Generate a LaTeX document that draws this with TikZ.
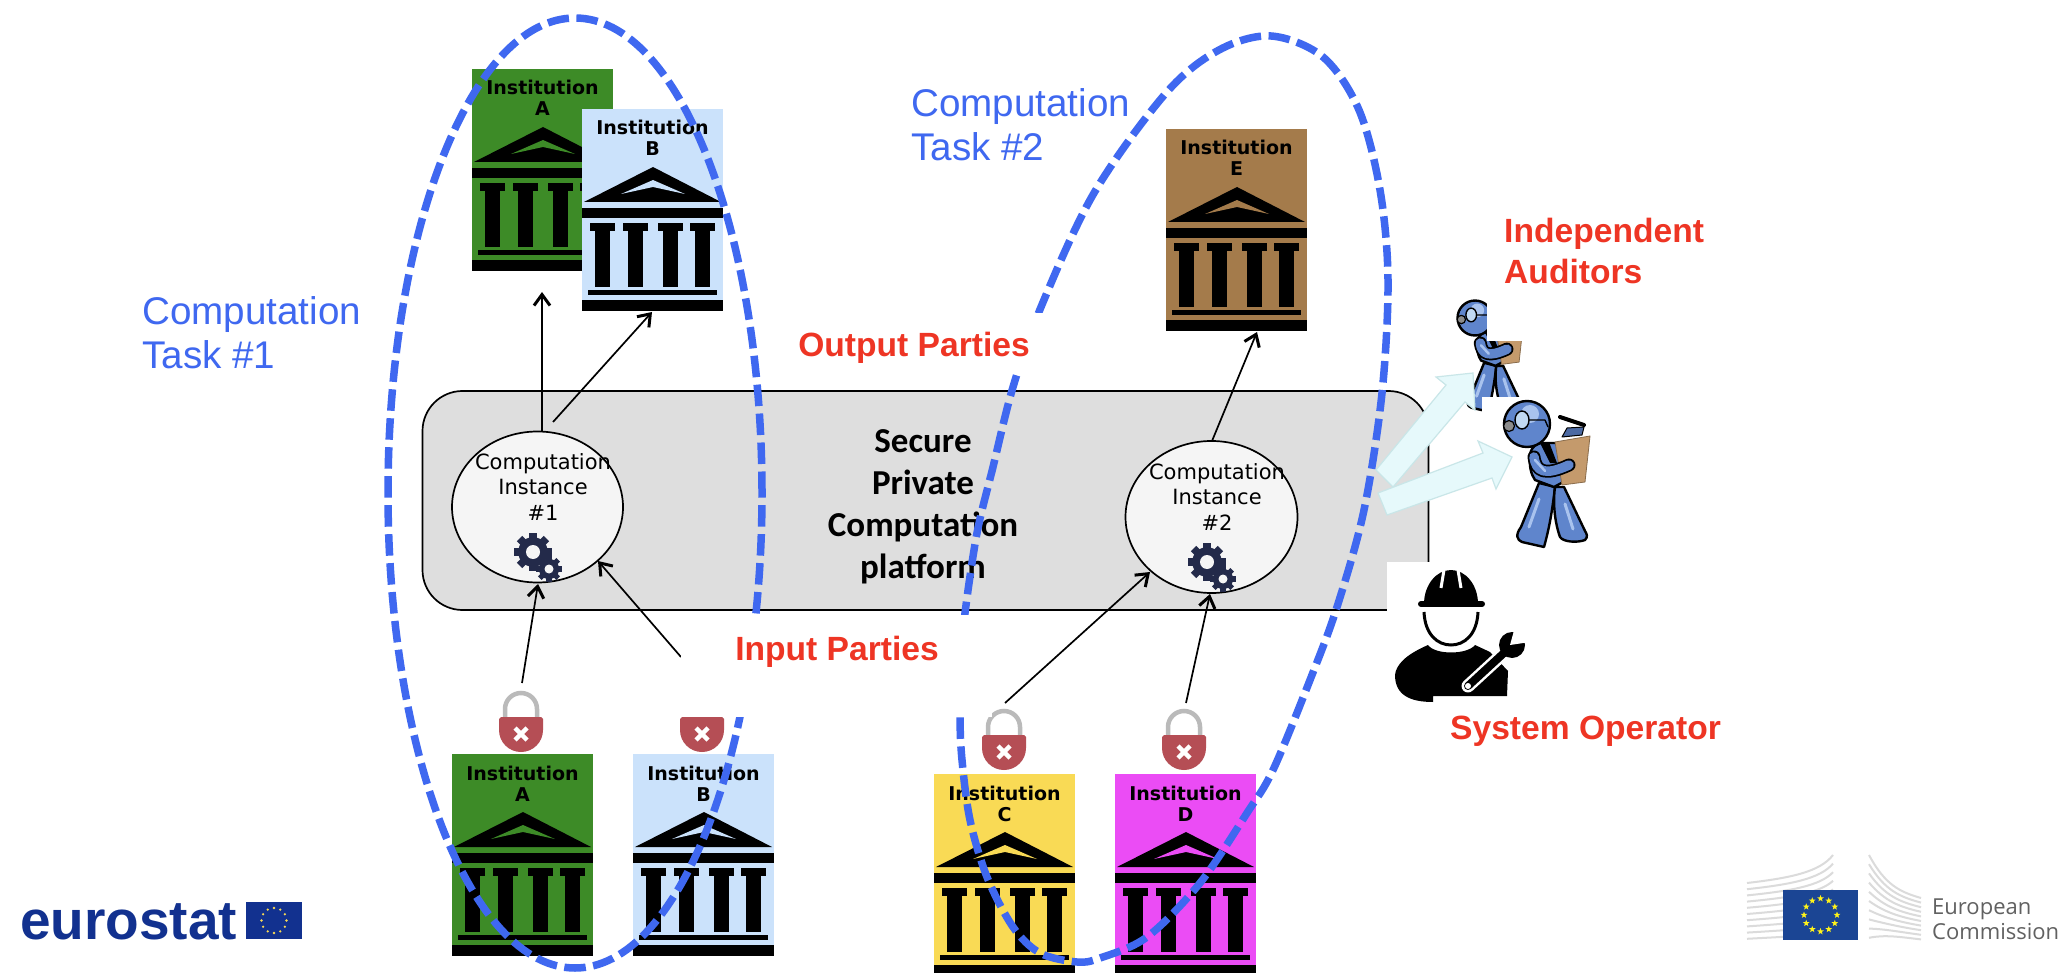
\documentclass[tikz,border=0pt]{standalone}
\usepackage{fontspec}
\usetikzlibrary{arrows.meta,shapes.geometric}
\setmainfont{DejaVu Sans}
\newfontfamily\dvfont{DejaVu Sans}
\newfontfamily\libfont{Liberation Sans}
\newfontfamily\osfont{Open Sans}
\newfontfamily\carfont{Carlito}
\definecolor{taskblue}{HTML}{3F68F0}
\definecolor{labred}{HTML}{EE3524}
\definecolor{platgrey}{HTML}{DEDEDE}
\definecolor{instgreen}{HTML}{3D8B27}
\definecolor{instblue}{HTML}{CBE2FB}
\definecolor{instyellow}{HTML}{F9DA55}
\definecolor{instmagenta}{HTML}{EB4CF5}
\definecolor{instbrown}{HTML}{A47B4B}
\definecolor{lockred}{HTML}{B54E55}
\definecolor{gearnavy}{HTML}{232A4A}
\definecolor{eublue}{HTML}{12318F}
\definecolor{ecblue}{HTML}{1B4594}
\definecolor{figblue}{HTML}{5F85CC}
\definecolor{figlight}{HTML}{A9C3EE}
\definecolor{clipboard}{HTML}{C49A6C}
\definecolor{cyanfill}{HTML}{E6F9FB}
\definecolor{cyanedge}{HTML}{C9E6E8}
\tikzset{
  instbox/.style={rectangle,minimum width=141pt,minimum height=202pt,inner sep=0pt},
  insttext/.style={inner sep=0pt,align=center,font=\dvfont\bfseries\fontsize{19}{21}\selectfont},
  platbox/.style={rectangle,rounded corners=40pt,draw=black,line width=1.7pt,fill=platgrey,
    minimum width=1006pt,minimum height=219pt,inner sep=0pt},
  instcircle/.style={ellipse,draw=black,line width=1.7pt,fill=white!96!black,
    minimum width=171pt,minimum height=151pt,inner sep=0pt},
  circtext/.style={inner sep=0pt,align=center,font=\dvfont\fontsize{21}{25.5}\selectfont},
  conn/.style={line width=1.7pt,-{Straight Barb[length=11pt,width=16pt,line width=3pt]}},
  taskring/.style={draw=taskblue,line width=7.5pt,dash pattern=on 21.5pt off 7.5pt},
  tasklabel/.style={inner sep=0pt,align=left,text=taskblue,font=\libfont\fontsize{38.6}{44}\selectfont},
  rolelabel/.style={inner sep=0pt,align=left,text=labred,font=\libfont\bfseries\fontsize{33.6}{41}\selectfont},
  masker/.style={rectangle,fill=white,inner sep=0pt},
  bigarrow/.style={fill=cyanfill,draw=cyanedge,line width=1.2pt,line join=miter},
}
\newcommand{\instit}[5]{%
  \node[instbox,fill=#4] (#1) at (#2+70.5,#3+101) {};
  \begin{scope}[shift={(#2,#3)}]
    \fill[black] (71,58) -- (139,93) -- (2,93) -- cycle;
    \fill[#4] (39,85) -- (71,71) -- (103,85) -- (71,78) -- cycle;
    \fill[black] (0,99) rectangle (141,109);
    \foreach \cx in {20.5,53.5,88.5,120.5}{
      \fill[black] (\cx-12.5,114) rectangle (\cx+12.5,122);
      \fill[black] (\cx-7.5,122) rectangle (\cx+7.5,178);
    }
    \fill[black] (6,181) rectangle (135,186);
    \fill[black] (0,191) rectangle (141,202);
    \node[insttext,anchor=base] (#1t) at (70.5,47) {Institution\\#5};
  \end{scope}}
\newcommand{\padlock}[3]{%
  \coordinate (#1) at (#2+22,#3+10);
  \begin{scope}[shift={(#2,#3)}]
    \draw[line width=4.5pt,color=black!27] (6,2) -- (6,-8) arc [start angle=180,end angle=0,radius=16pt] -- (38,2);
    \fill[lockred] (2,0) -- (42,0) -- (44,2) -- (44,13) arc [start angle=0,end angle=-180,radius=22pt] -- (0,2) -- cycle;
    \draw[white,line width=4.5pt] (16,11) -- (28,23) (16,23) -- (28,11);
  \end{scope}}
\newcommand{\gearpair}[2]{%
  \begin{scope}[shift={(#1,#2)}]
    \foreach \gx/\gy/\gr/\gh in {0/0/19/7,16/17/13/4.5}{
      \begin{scope}[shift={(\gx,\gy)}]
        \foreach \a in {0,45,...,135}{
          \fill[gearnavy,rotate=\a] (-0.2*\gr,-\gr) rectangle (0.2*\gr,\gr);
        }
        \fill[gearnavy] (0,0) circle [radius=0.78*\gr pt];
        \fill[white!96!black] (0,0) circle [radius=\gh pt];
      \end{scope}
    }
  \end{scope}}
\newcommand{\auditor}[3]{%
  \begin{scope}[shift={(#1,#2)},scale=#3,line join=round]
    \draw[fill=figblue,line width=2.4pt] (12,59) -- (-6,103) .. controls (-12,111) and (-10,116) .. (-5,118) -- (17,123) .. controls (22,105) and (25,89) .. (28,63) -- cycle;
    \draw[fill=figblue,line width=2.4pt] (28,63) .. controls (25,85) and (30,105) .. (33,113) .. controls (36,118) and (50,119) .. (58,116) .. controls (61,113) and (60,110) .. (58,107) -- (37,63) -- cycle;
    \draw[figlight,line width=3pt,line cap=round] (12,75) -- (2,103) (38,80) -- (46,105);
    \draw[fill=figblue,line width=2.4pt] (3,30) .. controls (5,22) and (10,19) .. (15,19) -- (30,19) -- (40,56) -- (27,63) -- (8,56) .. controls (4,50) and (2,43) .. (3,30) -- cycle;
    \fill[black] (13,19) -- (22,18) -- (30,39) -- (23,39) -- cycle;
    \draw[line width=4pt,line cap=round] (33,-7) -- (57,1);
    \draw[fill=figblue!80!black,line width=1pt] (35,13) -- (40,4) -- (57,3) -- (55,11) -- cycle;
    \fill[clipboard,draw=clipboard!70!black,line width=.8pt] (28,18) -- (63,12) -- (58,58) -- (35,61) -- cycle;
    \draw[line width=13pt,line cap=round,line join=round] (7,33) .. controls (9,48) and (18,52) .. (42,41);
    \draw[figblue,line width=9.5pt,line cap=round,line join=round] (7,33) .. controls (9,48) and (18,52) .. (42,41);
    \draw[figlight,line width=2.5pt,line cap=round] (8,36) -- (18,47);
    \draw[fill=figblue,line width=2.4pt] (0,0) circle [radius=23pt];
    \fill[figlight] (3,-10) circle [radius=9pt];
    \draw[fill=black!45,line width=1.2pt] (-18,2) circle [radius=5.5pt];
    \draw[fill=figlight!60!cyanfill,line width=1.4pt] (-5,-4) ellipse [x radius=7pt,y radius=9pt];
    \draw[line width=1.4pt] (2,-4) -- (18,-4) (18,-4) -- (21,3);
  \end{scope}}
\begin{document}
\begin{tikzpicture}[x=1pt,y=-1pt]
\useasboundingbox (0,0) rectangle (2067,973);
\clip (0,0) rectangle (2067,973);
\fill[white] (0,0) rectangle (2067,973);

% platform
\node[platbox] (plat) at (925.5,500.5) {};
\node[inner sep=0pt,align=center,anchor=base,font=\carfont\bfseries\fontsize{35}{42}\selectfont] (plattext) at (923,578) {Secure\\Private\\Computation\\platform};

% computation instances
\node[instcircle] (c1) at (537.5,507) {};
\node[instcircle,minimum width=172pt,minimum height=152pt] (c2) at (1211.5,517) {};
\node[circtext,anchor=base] (c1t) at (543,520) {Computation\\Instance\\\#1};
\node[circtext,anchor=base] (c2t) at (1217,530) {Computation\\Instance\\\#2};
\gearpair{533}{552}
\gearpair{1207}{562}

% institutions
\instit{oa}{472}{69}{instgreen}{A}
\instit{ob}{582}{109}{instblue}{B}
\instit{oe}{1166}{129}{instbrown}{E}
\instit{ia}{452}{754}{instgreen}{A}
\instit{ib}{633}{754}{instblue}{B}
\instit{ic}{934}{774}{instyellow}{C}
\instit{id}{1115}{774}{instmagenta}{D}

% locks
\padlock{la}{499}{717}
\padlock{lb}{680}{717}
\padlock{lc}{982}{735}
\padlock{ld}{1162}{735}

% connectors
\coordinate (toa) at (542,292);
\coordinate (tob) at (652,312);
\coordinate (toe) at (1257,332);
\coordinate (froma) at (522,683);
\coordinate (fromb) at (681,657);
\coordinate (fromc) at (1005,703);
\coordinate (fromd) at (1186,703);
\coordinate (c1a) at (542,431);
\coordinate (c1b) at (553,422);
\coordinate (c2e) at (1212,441);
\coordinate (c1ia) at (538,584);
\coordinate (c1ib) at (598,561);
\coordinate (c2ic) at (1150,572);
\coordinate (c2id) at (1210,594);
\draw[conn] (c1a) -- (toa);
\draw[conn] (c1b) -- (tob);
\draw[conn] (c2e) -- (toe);
\draw[conn] (froma) -- (c1ia);
\draw[conn] (fromb) -- (c1ib);
\draw[conn] (fromc) -- (c2ic);
\draw[conn] (fromd) -- (c2id);

% task rings
\draw[taskring] (575,493) ellipse [x radius=187pt,y radius=475pt];
\draw[taskring] plot[smooth cycle,tension=.55] coordinates {
  (1271,36) (1323,57) (1359,110) (1380,190) (1388,280) (1382,393) (1364,510) (1337,607)
  (1310,680) (1273,770) (1247,813) (1200,883) (1147,937) (1100,958) (1077,962) (1040,953)
  (1013,927) (987,877) (970,820) (962,760) (960,717) (961,660) (965,613) (977,533)
  (993,467) (1013,387) (1041,307) (1094,193) (1166,93) (1219,50)};

% label masks and labels
\node[masker,minimum width=280pt,minimum height=60pt] (outmask) at (910,343) {};
\node[masker,minimum width=311pt,minimum height=102pt] (inmask) at (836.5,666) {};
\node[rolelabel,anchor=base] (outlabel) at (914,357) {Output Parties};
\node[rolelabel,anchor=base] (inlabel) at (837,660) {Input Parties};
\node[rolelabel,anchor=base west,align=left] (audlabel) at (1504,284) {Independent\\Auditors};
\node[rolelabel,anchor=base west] (oplabel) at (1450,739) {System Operator};
\node[tasklabel,anchor=base west] (task1) at (142,369) {Computation\\Task \#1};
\node[tasklabel,anchor=base west] (task2) at (911,161) {Computation\\Task \#2};

% auditors
\auditor{1475}{318}{.76}
\fill[white] (1487,295) rectangle (1530,341);
\fill[white] (1482,397) rectangle (1600,545);
\auditor{1527}{424}{1}

% operator
\fill[white] (1387,562) rectangle (1530,705);
\fill[black] (1424,604) arc [start angle=180,end angle=0,x radius=27pt,y radius=34pt] -- cycle;
\draw[black,line width=6pt,line cap=round] (1421,604) -- (1482,604);
\draw[white,line width=3pt] (1444,570) -- (1441,588) (1458,570) -- (1461,588);
\draw[black,line width=3pt] (1424,612) .. controls (1425,635) and (1438,645) .. (1451,645) .. controls (1464,645) and (1477,635) .. (1478,612);
\fill[black] (1433,702) .. controls (1410,702) and (1395,695) .. (1395,675) .. controls (1396,665) and (1405,655) .. (1428,645)
  .. controls (1435,655) and (1467,655) .. (1475,645) -- (1490,652) -- (1508,671) -- (1507,696) -- (1433,696) -- cycle;
\draw[white,line width=13pt,line cap=round] (1468,686) -- (1505,652);
\draw[black,line width=8pt,line cap=round] (1468,686) -- (1505,652);
\fill[white] (1468,686) circle [radius=3pt];
\fill[black] (1512,645) circle [radius=13pt];
\fill[white] (1510,645) -- (1515,627) -- (1530,642) -- cycle;

% data flow arrows to auditors
\draw[bigarrow] (1376,470) -- (1446,385) -- (1436,377) -- (1473,373) -- (1475,410) -- (1465,402) -- (1393,487) -- cycle;
\draw[bigarrow] (1378,493) -- (1483,453) -- (1478,441) -- (1512,457) -- (1496,489) -- (1492,478) -- (1387,515) -- cycle;

% eurostat logo
\node[inner sep=0pt,anchor=base west,text=eublue,font=\libfont\bfseries\fontsize{55}{60}\selectfont] (eurostat) at (20,939) {eurostat};
\fill[eublue] (246,902) rectangle (302,939);
\foreach \a in {0,30,...,330}{\fill[instyellow] (274,920.5) ++(\a:12.5pt) circle [radius=1.3pt];}

% european commission logo
\foreach \k in {0,...,9}{
  \draw[black!14,line width=2pt] (1747,883+\k*6.2) .. controls (1790,878+\k*6.5) and (1820,872+\k*7) .. (1833,855+\k*8.6);
  \draw[black!14,line width=2pt] (1869,855+\k*9.2) .. controls (1885,885+\k*5.5) and (1900,892+\k*5) .. (1921,898+\k*4.6);
}
\fill[ecblue] (1783,890) rectangle (1858,940);
\foreach \a in {0,30,...,330}{\node[star,star points=5,star point ratio=2.4,fill=yellow!90!white,inner sep=0pt,minimum size=7pt] at ([shift={(\a:16.5pt)}]1820.5,915) {};}
\node[inner sep=0pt,anchor=base west,align=left,text=black!62,font=\osfont\fontsize{22}{25}\selectfont] (ectext) at (1932,939) {European\\Commission};
\end{tikzpicture}
\end{document}
